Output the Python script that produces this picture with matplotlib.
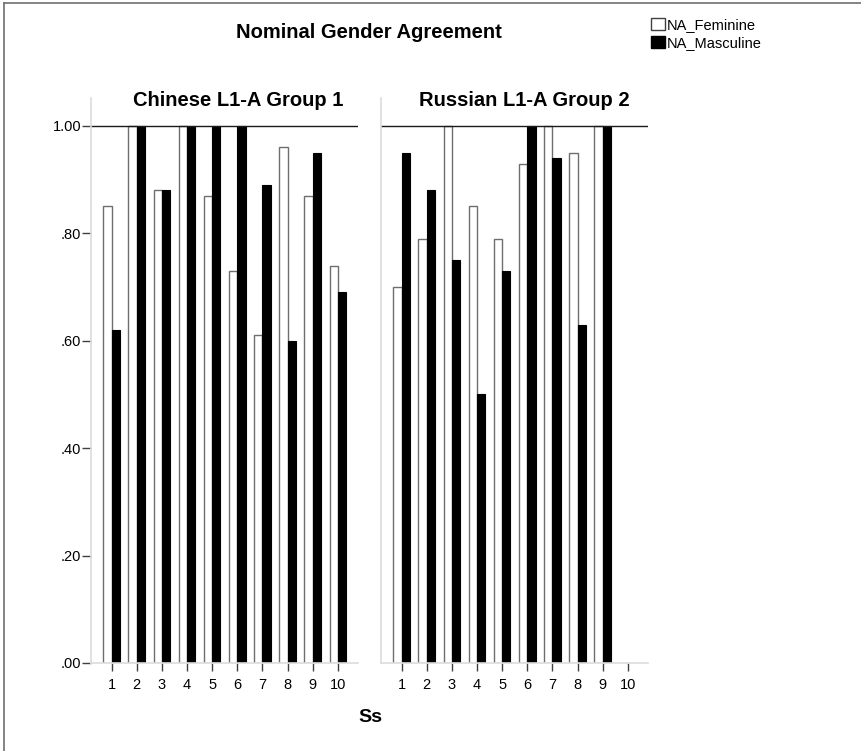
import matplotlib
matplotlib.use('Agg')
import matplotlib.pyplot as plt
from matplotlib.lines import Line2D
from matplotlib.patches import Patch
import numpy as np

plt.rcParams['font.family'] = ['Liberation Sans', 'DejaVu Sans']

subjects = [1, 2, 3, 4, 5, 6, 7, 8, 9, 10]
groups = ['Chinese L1-A Group 1', 'Russian L1-A Group 2']

# proportion correct per subject
chinese_fem = [.85, 1.00, .88, 1.00, .87, .73, .61, .96, .87, .74]
chinese_masc = [.62, 1.00, .88, 1.00, 1.00, 1.00, .89, .60, .95, .69]
russian_fem = [.70, .79, 1.00, .85, .79, .93, 1.00, .95, 1.00, np.nan]
russian_masc = [.95, .88, .75, .50, .73, 1.00, .94, .63, 1.00, np.nan]

fem = [chinese_fem, russian_fem]
masc = [chinese_masc, russian_masc]

yticks = [0, .2, .4, .6, .8, 1.0]
ytick_labels = ['.00', '.20', '.40', '.60', '.80', '1.00']

W, H = 861, 751
fig = plt.figure(figsize=(W / 100, H / 100), dpi=100)

# frame lines like the SPSS output window
fig.add_artist(Line2D([4 / W, 4 / W], [0, 1 - 3 / H], color='#707070', lw=1.2))
fig.add_artist(Line2D([4 / W, 1], [1 - 3 / H, 1 - 3 / H], color='#707070', lw=1.2))

bottom = 1 - 663 / H
height = (663 - 98) / H
lefts = [91 / W, 381 / W]
title_x = [238, 524]
width = 267 / W
bw = 0.33
x = np.array(subjects)

for k, left in enumerate(lefts):
    ax = fig.add_axes([left, bottom, width, height])
    ax.bar(x - bw / 2, fem[k], width=bw, color='white', edgecolor='#6e6e6e', lw=1)
    ax.bar(x + bw / 2, masc[k], width=bw, color='black', edgecolor='black', lw=0.8)
    ax.axhline(1.0, color='#1a1a1a', lw=1)
    ax.set_xlim(0.18, 10.8)
    ax.set_ylim(0, 1.052)
    for s in ['top', 'right']:
        ax.spines[s].set_visible(False)
    for s in ['left', 'bottom']:
        ax.spines[s].set_color('#dcdcdc')
        ax.spines[s].set_linewidth(1.2)
    ax.set_xticks(subjects)
    ax.set_xticklabels([str(s) for s in subjects], fontsize=10.5)
    ax.tick_params(axis='x', length=6, width=1, color='#404040', pad=5)
    if k == 0:
        ax.set_yticks(yticks)
        ax.set_yticklabels(ytick_labels, fontsize=10.5)
        ax.tick_params(axis='y', length=6.5, width=1, color='#404040', pad=0.5)
    else:
        ax.set_yticks([])
    fig.text(title_x[k] / W, 1 - 100 / H, groups[k], ha='center', va='center',
             fontsize=14.5, fontweight='bold')

fig.text(369 / W, 1 - 33 / H, 'Nominal Gender Agreement', ha='center', va='center',
         fontsize=14.5, fontweight='bold')
fig.text(370 / W, 1 - 718 / H, 'Ss', ha='center', va='center',
         fontsize=14, fontweight='bold')

handles = [Patch(facecolor='white', edgecolor='#404040', lw=1),
           Patch(facecolor='black', edgecolor='black')]
fig.legend(handles, ['NA_Feminine', 'NA_Masculine'], loc='upper left',
           bbox_to_anchor=(641 / W, 1 - 8 / H), frameon=False, fontsize=10.5,
           handlelength=0.95, handleheight=0.85, handletextpad=0.1,
           labelspacing=0.25, borderpad=0.2)

fig.savefig('out.png', dpi=100)
